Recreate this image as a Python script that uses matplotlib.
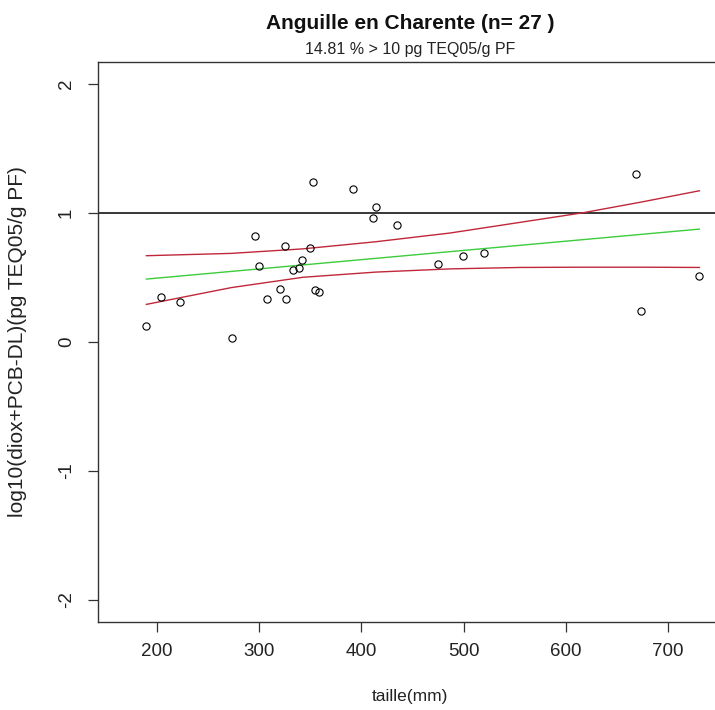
import numpy as np
import matplotlib
matplotlib.use("Agg")
import matplotlib.pyplot as plt

# taille (mm) et log10(diox+PCB-DL)
taille = [190.0, 204.6, 222.5, 273.2, 296.3, 299.6, 307.4, 320.8, 325.1,
          326.0, 332.9, 339.4, 342.0, 350.2, 352.5, 354.5, 358.4, 392.3,
          411.3, 414.8, 435.4, 474.9, 499.7, 520.3, 668.5, 673.9, 730.5]
log_teq = [0.12, 0.349, 0.305, 0.026, 0.821, 0.591, 0.333, 0.411, 0.741,
           0.333, 0.558, 0.568, 0.630, 0.726, 1.239, 0.403, 0.385, 1.180,
           0.960, 1.048, 0.901, 0.602, 0.664, 0.689, 1.301, 0.235, 0.506]

# droite de régression et intervalle de confiance
reg_x = [190.0, 730.5]
reg_y = [0.486, 0.873]
ic_x = [190.0, 273.0, 343.0, 414.0, 487.0, 555.0, 617.0, 674.0, 730.5]
ic_haut = [0.667, 0.685, 0.72, 0.775, 0.843, 0.925, 1.0, 1.083, 1.17]
ic_bas = [0.29, 0.42, 0.50, 0.54, 0.565, 0.576, 0.578, 0.578, 0.576]

seuil = 1.0
x_ticks = [200, 300, 400, 500, 600, 700]
y_ticks = [-2, -1, 0, 1, 2]
titre = "Anguille en Charente (n= 27 )"
sous_titre = "14.81 % > 10 pg TEQ05/g PF"

plt.rcParams["font.family"] = ["Liberation Sans", "DejaVu Sans"]

fig = plt.figure(figsize=(7.15, 7.10), dpi=100)
ax = fig.add_axes([97.7 / 715, 88 / 710, 624.3 / 715, 559.7 / 710])

ax.axhline(seuil, color="black", lw=1.1)
ax.plot(reg_x, reg_y, color="#3ccc3c", lw=1.0)
ax.plot(ic_x, ic_haut, color="#c0283a", lw=1.0)
ax.plot(ic_x, ic_bas, color="#c0283a", lw=1.0)
ax.plot(taille, log_teq, "o", mfc="none", mec="black", ms=5.2, mew=0.8)

ax.set_xlim(142.4, 752.6)
ax.set_ylim(-2.17, 2.165)
ax.set_xticks(x_ticks)
ax.set_yticks(y_ticks)
ax.set_xticklabels([str(v) for v in x_ticks], fontsize=13.5, color="#222222")
ax.set_yticklabels([str(v) for v in y_ticks], fontsize=13.5, color="#222222",
                   rotation=90, va="center")
ax.tick_params(axis="x", length=7.2, width=0.9, pad=8, color="#333333")
ax.tick_params(axis="y", length=7.5, width=0.9, pad=9, color="#333333")
for sp in ax.spines.values():
    sp.set_linewidth(1.0)
    sp.set_color("#333333")

cx = (97.7 + 722) / 2 / 715
fig.text(cx, 1 - 29 / 710, titre, ha="center", va="baseline",
         fontweight="bold", fontsize=15, color="#111111")
fig.text(cx, 1 - 54 / 710, sous_titre, ha="center", va="baseline",
         fontsize=11.5, color="#222222")
fig.text(cx, 1 - 697 / 710, "taille(mm)", ha="center", va="center",
         fontsize=12.5, color="#222222")
fig.text(18 / 715, (710 - 342) / 710, "log10(diox+PCB-DL)(pg TEQ05/g PF)",
         rotation=90, ha="center", va="center", fontsize=15, color="#222222")

fig.savefig("out.png", dpi=100)
